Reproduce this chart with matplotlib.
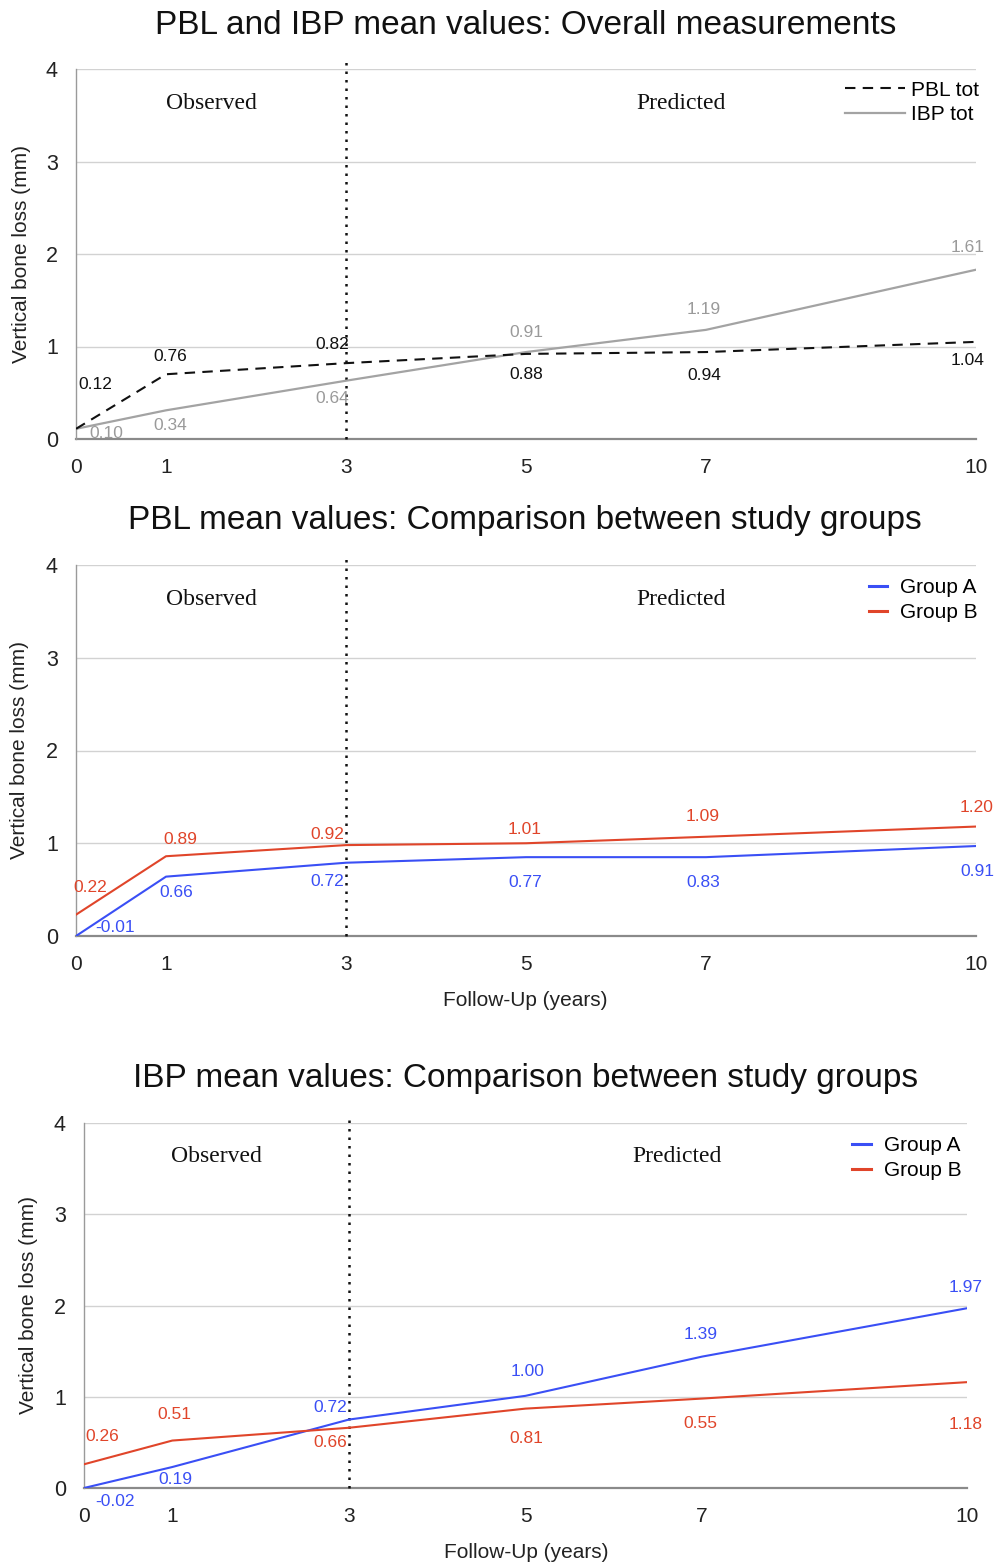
import matplotlib
matplotlib.use("Agg")
import matplotlib.pyplot as plt
from matplotlib.lines import Line2D

# ---------------- data ----------------
years = [0, 1, 3, 5, 7, 10]
year_ticks = [0, 1, 3, 5, 7, 10]
y_ticks = [0, 1, 2, 3, 4]

# Panel 1: overall
pbl_tot_line = [0.11, 0.70, 0.82, 0.92, 0.94, 1.05]
ibp_tot_line = [0.11, 0.31, 0.63, 0.94, 1.18, 1.83]
pbl_tot_labels = ["0.12", "0.76", "0.82", "0.88", "0.94", "1.04"]
ibp_tot_labels = ["0.10", "0.34", "0.64", "0.91", "1.19", "1.61"]

# Panel 2: PBL by group
pbl_a_line = [0.00, 0.64, 0.79, 0.85, 0.85, 0.97]
pbl_b_line = [0.23, 0.86, 0.98, 1.00, 1.07, 1.18]
pbl_a_labels = ["-0.01", "0.66", "0.72", "0.77", "0.83", "0.91"]
pbl_b_labels = ["0.22", "0.89", "0.92", "1.01", "1.09", "1.20"]

# Panel 3: IBP by group
ibp_a_line = [0.00, 0.23, 0.75, 1.01, 1.44, 1.97]
ibp_b_line = [0.26, 0.52, 0.66, 0.87, 0.98, 1.16]
ibp_a_labels = ["-0.02", "0.19", "0.72", "1.00", "1.39", "1.97"]
ibp_b_labels = ["0.26", "0.51", "0.66", "0.81", "0.55", "1.18"]

titles = ["PBL and IBP mean values: Overall measurements",
          "PBL mean values: Comparison between study groups",
          "IBP mean values: Comparison between study groups"]

# ---------------- style ----------------
W, H = 1005, 1564
BLUE = "#3a4ff5"
RED = "#e0452a"
GRAY = "#a3a3a3"
GRAYTXT = "#9a9a9a"
SANS = "Liberation Sans"
SERIF = "Liberation Serif"

fig = plt.figure(figsize=(W / 100, H / 100), dpi=100)
fig.patch.set_facecolor("white")


def px_axes(l, t, r, b):
    return fig.add_axes([l / W, 1 - b / H, (r - l) / W, (b - t) / H])


def style_axes(ax):
    ax.set_xlim(0, 10)
    ax.set_ylim(0, 4)
    ax.set_xticks(year_ticks)
    ax.set_yticks(y_ticks)
    ax.set_xticklabels([str(v) for v in year_ticks], fontfamily=SANS, fontsize=15)
    ax.set_yticklabels([str(v) for v in y_ticks], fontfamily=SANS, fontsize=15.5)
    ax.tick_params(axis="x", length=0, pad=14, colors="#222222")
    ax.tick_params(axis="y", length=0, pad=13, colors="#222222")
    for s in ["top", "right"]:
        ax.spines[s].set_visible(False)
    ax.spines["left"].set_color("#9a9a9a")
    ax.spines["left"].set_linewidth(1.0)
    ax.spines["bottom"].set_color("#8a8a8a")
    ax.spines["bottom"].set_linewidth(1.6)
    ax.spines["bottom"].set_zorder(1)
    for yv in y_ticks[1:]:
        ax.axhline(yv, color="#d2d2d2", lw=1.0, zorder=0)
    ax.axvline(3, ymin=0, ymax=1.02, color="#111111", lw=1.8,
               linestyle=(0, (1, 2.4)), clip_on=False, zorder=2)
    ax.text(0.15, 0.908, "Observed", transform=ax.transAxes, ha="center",
            va="center", fontfamily=SERIF, fontsize=17, color="#111111")
    ax.text(0.672, 0.908, "Predicted", transform=ax.transAxes, ha="center",
            va="center", fontfamily=SERIF, fontsize=17, color="#111111")


def annotate(ax, xs, ys, labels, offsets, color):
    for x, y, lab, (dx, dy) in zip(xs, ys, labels, offsets):
        ax.annotate(lab, (x, y), xytext=(dx, dy), textcoords="offset pixels",
                    ha="center", va="center", fontfamily=SANS, fontsize=12.5,
                    color=color, annotation_clip=False, zorder=4)


LEG = dict(loc="upper right", frameon=False, labelspacing=0.28, borderpad=0.2,
           prop={"family": SANS, "size": 15})

# ---------------- panel 1 ----------------
ax1 = px_axes(76, 69, 976, 439)
style_axes(ax1)
ax1.plot(years, ibp_tot_line, color=GRAY, lw=1.6, label="IBP tot", zorder=3)
ax1.plot(years, pbl_tot_line, color="#111111", lw=1.5, dashes=(5, 3.5),
         label="PBL tot", zorder=3)
annotate(ax1, years, pbl_tot_line, pbl_tot_labels,
         [(19, 44), (4, 18), (-14, 19), (0, -21), (-2, -23), (-8, -19)], "#111111")
annotate(ax1, years, ibp_tot_line, ibp_tot_labels,
         [(30, -5), (4, -15), (-14, -18), (0, 20), (-2, 20), (-8, 22)], GRAYTXT)
h1 = [Line2D([], [], color="#111111", lw=1.5, dashes=(5, 3.5)),
      Line2D([], [], color=GRAY, lw=1.6)]
ax1.legend(h1, ["PBL tot", "IBP tot"], bbox_to_anchor=(1.02, 1.008),
           handlelength=2.9, handletextpad=0.3, **LEG)

# ---------------- panel 2 ----------------
ax2 = px_axes(76, 565, 976, 936)
style_axes(ax2)
ax2.plot(years, pbl_a_line, color=BLUE, lw=1.5, zorder=3)
ax2.plot(years, pbl_b_line, color=RED, lw=1.5, zorder=3)
annotate(ax2, years, pbl_b_line, pbl_b_labels,
         [(14, 27), (14, 17), (-19, 11), (-1, 14), (-3, 20), (1, 19)], RED)
annotate(ax2, years, pbl_a_line, pbl_a_labels,
         [(39, 8), (10, -16), (-19, -19), (-1, -25), (-3, -25), (1, -25)], BLUE)
h2 = [Line2D([], [], color=BLUE, lw=2.2), Line2D([], [], color=RED, lw=2.2)]
ax2.legend(h2, ["Group A", "Group B"], bbox_to_anchor=(1.018, 1.003),
           handlelength=0.9, handletextpad=0.6, **LEG)

# ---------------- panel 3 ----------------
ax3 = px_axes(84, 1123, 967, 1488)
style_axes(ax3)
ax3.plot(years, ibp_a_line, color=BLUE, lw=1.5, zorder=3)
ax3.plot(years, ibp_b_line, color=RED, lw=1.5, zorder=3)
annotate(ax3, years, ibp_a_line, ibp_a_labels,
         [(31, -13), (3, -12), (-19, 12), (2, 24), (-1, 22), (-1, 21)], BLUE)
annotate(ax3, years, ibp_b_line, ibp_b_labels,
         [(18, 28), (2, 26), (-19, -15), (1, -30), (-2, -25), (-1, -42)], RED)
ax3.legend(h2, ["Group A", "Group B"], bbox_to_anchor=(1.01, 1.003),
           handlelength=0.9, handletextpad=0.6, **LEG)

# ---------------- titles and axis labels ----------------
for (cx, cy), t in zip([(526, 25), (525, 520), (526, 1079)], titles):
    fig.text(cx / W, 1 - cy / H, t, ha="center", va="center",
             fontfamily=SANS, fontsize=24, color="#111111")

for cx, cy in [(22, 254), (20, 750), (28, 1305)]:
    fig.text(cx / W, 1 - cy / H, "Vertical bone loss (mm)", rotation=90,
             ha="center", va="center", fontfamily=SANS, fontsize=15,
             color="#222222")

for cx, cy in [(525, 1000), (526, 1552)]:
    fig.text(cx / W, 1 - cy / H, "Follow-Up (years)", ha="center",
             va="center", fontfamily=SANS, fontsize=15, color="#222222")

fig.savefig("out.png", dpi=100)
